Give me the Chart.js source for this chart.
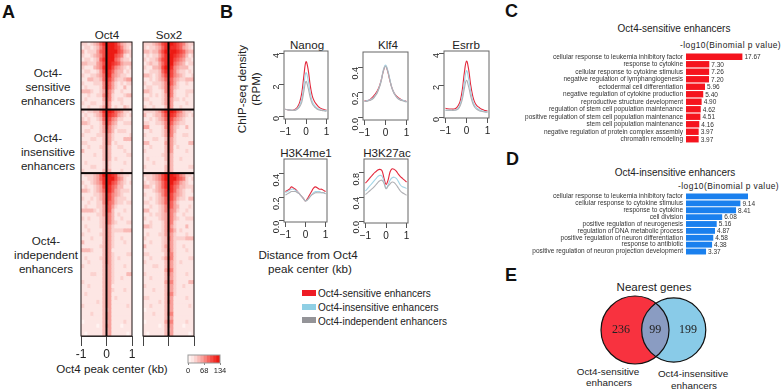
<!DOCTYPE html>
<html>
<head>
<meta charset="utf-8">
<script src="https://cdn.jsdelivr.net/npm/chart.js@4"></script>
<style>
  html, body { margin: 0; padding: 0; background: #fff; }
  body { width: 783px; height: 390px; position: relative; overflow: hidden; font-family: "Liberation Sans", Arial, sans-serif; color: #222; }
  canvas { position: absolute; }
  .t { position: absolute; transform: translate(-50%, -50%); white-space: nowrap; }
  .l { position: absolute; transform: translateY(-50%); white-space: nowrap; }
  .letter { position: absolute; font-weight: bold; font-size: 18px; color: #111; transform: translateY(-50%); }
  .rot { position: absolute; transform: translate(-50%, -50%) rotate(-90deg); white-space: nowrap; }
  .s11 { font-size: 11.6px; }
  .s9 { font-size: 9.9px; }
  .swatch { position: absolute; width: 14px; height: 6px; }
</style>
</head>
<body>
<div class="letter" style="left:2px;top:12px">A</div>
<div class="letter" style="left:220px;top:12px">B</div>
<div class="letter" style="left:505px;top:11px">C</div>
<div class="letter" style="left:506px;top:159px">D</div>
<div class="letter" style="left:505px;top:275px">E</div>

<div class="t s11" style="left:107px;top:34px">Oct4</div>
<div class="t s11" style="left:169px;top:34px">Sox2</div>
<div class="t s11" style="left:48px;top:72px">Oct4-</div>
<div class="t s11" style="left:48px;top:86px">sensitive</div>
<div class="t s11" style="left:48px;top:100px">enhancers</div>
<div class="t s11" style="left:48px;top:137px">Oct4-</div>
<div class="t s11" style="left:48px;top:151px">insensitive</div>
<div class="t s11" style="left:48px;top:165px">enhancers</div>
<div class="t s11" style="left:46px;top:240px">Oct4-</div>
<div class="t s11" style="left:46px;top:254px">independent</div>
<div class="t s11" style="left:46px;top:268px">enhancers</div>
<div class="t s11" style="left:112px;top:368px">Oct4 peak center (kb)</div>

<div class="rot s11" style="left:241px;top:89px">ChIP-seq density</div>
<div class="rot s11" style="left:255px;top:89px">(RPM)</div>
<div class="t s11" style="left:307px;top:44px">Nanog</div>
<div class="t s11" style="left:388px;top:44px">Klf4</div>
<div class="t s11" style="left:466px;top:44px">Esrrb</div>
<div class="t s11" style="left:306px;top:152px">H3K4me1</div>
<div class="t s11" style="left:387px;top:152px">H3K27ac</div>
<div class="t s11" style="left:308px;top:254px">Distance from Oct4</div>
<div class="t s11" style="left:310px;top:268px">peak center (kb)</div>

<div class="swatch" style="left:302px;top:290px;background:#ee1c25"></div>
<div class="l" style="left:318px;top:293px;font-size:10px">Oct4-sensitive enhancers</div>
<div class="swatch" style="left:302px;top:304px;background:#8fcfe4"></div>
<div class="l" style="left:318px;top:307px;font-size:10px">Oct4-insensitive enhancers</div>
<div class="swatch" style="left:302px;top:317px;background:#949498"></div>
<div class="l" style="left:318px;top:321px;font-size:10px">Oct4-independent enhancers</div>

<div class="t" style="left:674px;top:28px;font-size:10px">Oct4-sensitive enhancers</div>
<div class="l" style="left:680px;top:45px;font-size:8.4px;letter-spacing:0.45px">-log10(Binomial p value)</div>
<div class="t" style="left:675px;top:172px;font-size:10px">Oct4-insensitive enhancers</div>
<div class="l" style="left:678px;top:186px;font-size:8.4px;letter-spacing:0.45px">-log10(Binomial p value)</div>

<div class="t" style="left:654px;top:287px;font-size:11.5px">Nearest genes</div>
<div class="t s9" style="left:608px;top:371px">Oct4-sensitive</div>
<div class="t s9" style="left:609px;top:382px">enhancers</div>
<div class="t s9" style="left:693px;top:373px">Oct4-insensitive</div>
<div class="t s9" style="left:694px;top:385px">enhancers</div>

<script>
// heatmap rows, one digit per cell (0 = white .. 9 = red)
const oct4Rows = [
  "22123468999864322","12212357999875321","31222467999976432","21123457999765212",
  "12212368999653221","33222457998764333","21113458997543212","12211247986433121",
  "21122346985432211","11332236875322344","21112225864212122","12111125864211311",
  "33321124753112111","11211225752111233","12111114652122111","21122113641112111",
  "11211124641211321",
  "21223358998654221","12112347987643212","21211236875422111","33211125864311222",
  "11121124753211111","12211124653122211","21111223542111112","11122113542111333",
  "22111113541211111","11211123431122111","31111113431111211","11112113431111122",
  "11111113431211111","12111112421111211","11122112421111111","21111113431112111",
  "12223469998743221","11223468999754211","21123458997643212","12112347986533111",
  "33212346986432221","11112235875432111","21121235875322211","11211225865322122",
  "12111224764211111","33332124763111211","11111224653121111","21211123653112111",
  "11111123653211122","12111123542111111","11211113542222333","21111123542111111",
  "11121113542112111","31111113542111211","11111123542111111","33321113541111111",
  "11111113542111122","12111123542121111","11211113542111111","21111113442111211",
  "11111113442111111","11122113442111133","11111113442112111","21111113442111111",
  "11211113441111111","11111113442111211","12111113441111111","11111113441211111",
  "11111213441111111","21111113441111121","11111113341111111","11121113441111111",
  "11111113441111111","01111113341111211","11111013441110111","11111113341111111",
  "10111113341111101"
];
const sox2Rows = [
  "22234578998765322","21223468988764321","33233579899876433","12122468998765312",
  "21223578997654221","12322468996543122","21133479985433311","11222368875322121",
  "33212357875432112","11212346764322333","21122235864211211","12211235753211111",
  "33211125752111222","11212124752111211","22111124642212111","11211124641111211",
  "21121113641121111",
  "22223468998653221","31123357987543212","11212346875432111","22112235864322111",
  "44111125753211311","11211124753111111","21111124652112211","11122113542111111",
  "33111114542111133","11211113541211111","21111113541111211","11111123431111111",
  "12111113431121111","11121112431111111","21111113431111122","11111113431111111",
  "22234579998754221","12234579999765212","21223468997643211","33213468986533222",
  "11123457986432112","21112357875432111","11212346875322133","22112346764211111",
  "11211235764311121","33111235654211211","11212234653112111","21111234653211222",
  "11211124652111111","33211124642111311","11111124653121111","12111224542111211",
  "21111123642222333","11211123542111111","31111124542112111","11111123642111211",
  "22111113552111111","11211124652111122","21111113542121111","11122113542111111",
  "11111114652111111","21111113542111211","11211113442111111","11111114552111133",
  "21111113442112111","11121113442111111","11111113552111111","22111113441111211",
  "11111213541111111","11211113441111121","01111113441111111","11121113551111111",
  "11111113341111111","01111114551111211","11111013441110111","11111113341111111",
  "10111113441111101"
];
const heatRamp = ["#fff3f1","#fde6e4","#fbd2cf","#f9bab6","#f8a19c","#f7847e","#f6655f","#f44a43","#f1302a","#ec1a13"];
const heatSections = [17, 16, 41];
const heatTicks = [-1, 0, 1];
const colorbarTicks = [0, 68, 134];

// profile plots, x in kb
const distance = [-1,-0.9,-0.8,-0.7,-0.6,-0.5,-0.4,-0.3,-0.2,-0.1,0,0.1,0.2,0.3,0.4,0.5,0.6,0.7,0.8,0.9,1];
const nanogSensitive = [.42,.40,.38,.36,.38,.45,.60,.90,1.5,2.6,3.45,3.0,2.0,1.3,.95,.75,.60,.50,.45,.40,.37];
const nanogInsensitive = [.42,.40,.38,.36,.36,.40,.50,.70,1.1,2.0,2.75,2.3,1.5,.95,.70,.55,.45,.40,.37,.35,.33];
const nanogIndependent = [.42,.40,.38,.36,.35,.37,.45,.60,.90,1.6,2.2,1.8,1.2,.80,.60,.48,.40,.36,.34,.32,.30];
const klf4Sensitive = [.135,.135,.14,.15,.165,.185,.21,.245,.30,.37,.41,.37,.30,.24,.20,.175,.16,.15,.14,.135,.13];
const klf4Insensitive = [.13,.135,.14,.145,.155,.175,.20,.24,.30,.38,.415,.38,.31,.24,.20,.17,.155,.145,.14,.135,.125];
const klf4Independent = [.13,.13,.135,.14,.15,.17,.195,.235,.29,.37,.405,.37,.30,.235,.195,.17,.15,.14,.135,.13,.125];
const esrrbSensitive = [.55,.52,.50,.50,.50,.55,.70,1.0,1.7,2.8,3.5,3.0,2.0,1.3,.90,.70,.60,.50,.45,.40,.38];
const esrrbInsensitive = [.42,.42,.42,.42,.42,.45,.55,.80,1.3,2.2,2.9,2.4,1.6,1.0,.70,.55,.45,.40,.36,.34,.32];
const esrrbIndependent = [.42,.42,.42,.42,.42,.44,.50,.70,1.1,1.8,2.3,1.9,1.3,.85,.60,.47,.40,.36,.33,.31,.30];
const k4me1Sensitive = [.25,.26,.27,.29,.28,.27,.25,.23,.21,.19,.17,.19,.22,.25,.28,.29,.28,.27,.27,.26,.25];
const k4me1Insensitive = [.24,.25,.26,.27,.27,.26,.25,.23,.21,.19,.17,.18,.20,.22,.24,.25,.25,.25,.24,.24,.23];
const k4me1Independent = [.22,.23,.24,.25,.25,.25,.24,.23,.21,.19,.17,.18,.20,.22,.23,.24,.24,.24,.24,.24,.23];
const k27acSensitive = [.63,.67,.71,.75,.79,.82,.85,.86,.84,.72,.61,.68,.82,.87,.86,.83,.78,.74,.71,.68,.65];
const k27acInsensitive = [.50,.54,.58,.62,.66,.70,.74,.76,.75,.66,.54,.60,.68,.72,.73,.71,.66,.60,.57,.56,.54];
const k27acIndependent = [.44,.47,.50,.53,.56,.60,.64,.67,.68,.63,.54,.58,.62,.65,.64,.60,.55,.50,.47,.45,.43];

// GO term bars
const sensitiveTerms = ["cellular response to leukemia inhibitory factor","response to cytokine","cellular response to cytokine stimulus","negative regulation of lymphangiogenesis","ectodermal cell differentiation","negative regulation of cytokine production","reproductive structure development","regulation of stem cell population maintenance","positive regulation of stem cell population maintenance","stem cell population maintenance","negative regulation of protein complex assembly","chromatin remodeling"];
const sensitiveValues = [17.67,7.30,7.26,7.20,5.96,5.40,4.90,4.62,4.51,4.16,3.97,3.97];
const insensitiveTerms = ["cellular response to leukemia inhibitory factor","cellular response to cytokine stimulus","response to cytokine","cell division","positive regulation of neurogenesis","regulation of DNA metabolic process","positive regulation of neuron differentiation","response to antibiotic","positive regulation of neuron projection development"];
const insensitiveValues = [10.42,9.14,8.41,6.08,5.16,4.87,4.58,4.38,3.37];
const insensitiveShown = ["","9.14","8.41","6.08","5.16","4.87","4.58","4.38","3.37"];

// venn counts
const vennOnlySensitive = 236;
const vennShared = 99;
const vennOnlyInsensitive = 199;

// first dataset draws on top in Chart.js
const seriesColors = ["#b0b0b4", "#a3d5e6", "#e3283c"];

function addCanvas(left, top, w, h) {
  const c = document.createElement("canvas");
  c.width = w;
  c.height = h;
  c.style.left = left + "px";
  c.style.top = top + "px";
  c.style.width = w + "px";
  c.style.height = h + "px";
  document.body.appendChild(c);
  return c;
}

// keep the plot area where the layout puts it
function noScalePadding(s) {
  s.paddingTop = 0;
  s.paddingBottom = 0;
  s.paddingLeft = 0;
  s.paddingRight = 0;
}

const boxPlugin = {
  id: "box",
  afterDatasetsDraw(chart, args, opts) {
    const a = chart.chartArea;
    const ctx = chart.ctx;
    ctx.save();
    ctx.strokeStyle = opts.color;
    ctx.lineWidth = opts.width;
    ctx.strokeRect(a.left, a.top, a.right - a.left, a.bottom - a.top);
    ctx.restore();
  },
};

// black centre line and section dividers on the heatmaps
const heatLines = {
  id: "heatLines",
  afterDatasetsDraw(chart, args, opts) {
    const a = chart.chartArea;
    const ctx = chart.ctx;
    const cx = chart.scales.x.getPixelForValue(0);
    ctx.save();
    ctx.fillStyle = "#0c0606";
    ctx.fillRect(cx - 1, a.top, 2, a.bottom - a.top);
    let row = 0;
    opts.sections.slice(0, -1).forEach((n) => {
      row += n;
      const y = chart.scales.y.getPixelForValue(row - 0.5);
      ctx.fillRect(a.left, y - 1, a.right - a.left, 2);
    });
    ctx.restore();
  },
};

function heatmap(rows, left, showLabels) {
  const nCols = rows[0].length;
  const datasets = [];
  for (let c = 0; c < nCols; c++) {
    datasets.push({
      data: rows.map((r, i) => ({ x: [-1 + (2 * c) / nCols, -1 + (2 * (c + 1)) / nCols], y: i })),
      backgroundColor: rows.map((r) => heatRamp[+r[c]]),
      borderWidth: 0,
      grouped: false,
      barPercentage: 1,
      categoryPercentage: 1,
    });
  }
  const canvas = addCanvas(left - 12, 41, 51 + 24, 326);
  canvas.style.filter = "blur(0.5px)";
  new Chart(canvas, {
    type: "bar",
    data: { labels: rows.map((r, i) => i), datasets: datasets },
    options: {
      indexAxis: "y",
      responsive: false,
      animation: false,
      layout: { autoPadding: false, padding: { left: 12, right: 12, top: 1, bottom: 0 } },
      scales: {
        x: {
          type: "linear",
          min: -1,
          max: 1,
          afterBuildTicks: (s) => { s.ticks = heatTicks.map((v) => ({ value: v })); },
          afterFit: (s) => { s.height = 31; noScalePadding(s); },
          grid: { drawOnChartArea: false, tickLength: 10, color: "#444" },
          border: { color: "#444" },
          ticks: {
            padding: 1,
            maxRotation: 0,
            color: "#222",
            font: { size: 12, family: "Liberation Sans" },
            callback: (v) => (showLabels ? v : ""),
          },
        },
        y: { display: false },
      },
      plugins: {
        legend: { display: false },
        tooltip: { enabled: false },
        box: { color: "#1a1010", width: 1 },
        heatLines: { sections: heatSections },
      },
    },
    plugins: [boxPlugin, heatLines],
  });
}

heatmap(oct4Rows, 81, true);
heatmap(sox2Rows, 143, false);

// colour key under the heatmaps
const keyStep = 134 / heatRamp.length;
new Chart(addCanvas(178, 354, 52, 24), {
  type: "bar",
  data: {
    labels: ["key"],
    datasets: [{
      data: heatRamp.map((c, i) => ({ x: [i * keyStep, (i + 1) * keyStep], y: "key" })),
      backgroundColor: heatRamp,
      borderWidth: 0,
      grouped: false,
      barPercentage: 1,
      categoryPercentage: 1,
    }],
  },
  options: {
    indexAxis: "y",
    responsive: false,
    animation: false,
    layout: { autoPadding: false, padding: { left: 10, right: 10, top: 1, bottom: 0 } },
    scales: {
      x: {
        type: "linear",
        min: 0,
        max: 134,
        afterBuildTicks: (s) => { s.ticks = colorbarTicks.map((v) => ({ value: v })); },
        afterFit: (s) => { s.height = 15; noScalePadding(s); },
        grid: { drawOnChartArea: false, tickLength: 2, color: "#888" },
        border: { display: false },
        ticks: { padding: 1, maxRotation: 0, color: "#222", font: { size: 7.5, family: "Liberation Sans" } },
      },
      y: { display: false },
    },
    plugins: { legend: { display: false }, tooltip: { enabled: false }, box: { color: "#999", width: 1 } },
  },
  plugins: [boxPlugin],
});

// profile plot: box is the frame in page pixels
function profile(box, yMin, yMax, yTicks, sensitive, insensitive, independent, decimals) {
  const series = [independent, insensitive, sensitive];
  new Chart(addCanvas(box[0] - 26, box[1] - 1, box[2] + 26 + 8, box[3] + 1 + 24), {
    type: "line",
    data: {
      labels: distance,
      datasets: series.map((s, i) => ({
        data: s.map((v, k) => ({ x: distance[k], y: v })),
        borderColor: seriesColors[i],
        borderWidth: 1.1,
        pointRadius: 0,
        tension: 0.4,
      })),
    },
    options: {
      responsive: false,
      animation: false,
      layout: { autoPadding: false, padding: { left: 0, right: 8, top: 1, bottom: 0 } },
      scales: {
        x: {
          type: "linear",
          min: -1.07,
          max: 1.07,
          afterBuildTicks: (s) => { s.ticks = [-1, 0, 1].map((v) => ({ value: v })); },
          afterFit: (s) => { s.height = 24; noScalePadding(s); },
          grid: { drawOnChartArea: false, tickLength: 5, color: "#555" },
          border: { display: false },
          ticks: { padding: 2, maxRotation: 0, color: "#222", font: { size: 10, family: "Liberation Sans" },
            callback: (v) => (v < 0 ? "\u2212" + Math.abs(v) : v) },
        },
        y: {
          min: yMin,
          max: yMax,
          afterBuildTicks: (s) => { s.ticks = yTicks.map((v) => ({ value: v })); },
          afterFit: (s) => { s.width = 26; noScalePadding(s); },
          grid: { drawOnChartArea: false, tickLength: 5, color: "#555" },
          border: { display: false },
          ticks: { padding: 2, minRotation: 90, maxRotation: 90, color: "#222", font: { size: 9, family: "Liberation Sans" },
            callback: (v) => v.toFixed(decimals) },
        },
      },
      plugins: { legend: { display: false }, tooltip: { enabled: false }, box: { color: "#666", width: 1 } },
    },
    plugins: [boxPlugin],
  });
}

profile([284, 51, 44, 68], -0.19, 4.13, [0, 2, 4], nanogSensitive, nanogInsensitive, nanogIndependent, 0);
profile([363, 52, 45, 68], -0.016, 0.518, [0, 0.2, 0.4], klf4Sensitive, klf4Insensitive, klf4Independent, 1);
profile([444, 51, 45, 67], -0.06, 4.13, [0, 2, 4], esrrbSensitive, esrrbInsensitive, esrrbIndependent, 0);
profile([284, 159, 43, 63], -0.01, 0.528, [0, 0.2, 0.4], k4me1Sensitive, k4me1Insensitive, k4me1Independent, 1);
profile([364, 159, 44, 64], -0.033, 1.033, [0, 0.4, 0.8], k27acSensitive, k27acInsensitive, k27acIndependent, 1);

const barValueLabels = {
  id: "barValueLabels",
  afterDatasetsDraw(chart, args, opts) {
    const ctx = chart.ctx;
    ctx.save();
    ctx.font = "6.5px 'Liberation Sans'";
    ctx.fillStyle = "#333";
    ctx.textBaseline = "middle";
    chart.getDatasetMeta(0).data.forEach((bar, i) => {
      ctx.fillText(opts.texts[i], bar.x + 2, bar.y + 0.5);
    });
    ctx.restore();
  },
};

function goBars(left, top, h, xMax, terms, values, texts, color) {
  new Chart(addCanvas(left, top, 783 - left, h), {
    type: "bar",
    data: {
      labels: terms,
      datasets: [{ data: values, backgroundColor: color, borderWidth: 0, barPercentage: 0.85, categoryPercentage: 1 }],
    },
    options: {
      indexAxis: "y",
      responsive: false,
      animation: false,
      layout: { autoPadding: false, padding: 0 },
      scales: {
        x: { display: false, min: 0, max: xMax },
        y: {
          afterFit: (s) => { s.width = 186; noScalePadding(s); },
          grid: { display: false, drawTicks: false },
          border: { display: false },
          ticks: { autoSkip: false, padding: 3, color: "#333", font: { size: 6.5, family: "Liberation Sans" } },
        },
      },
      plugins: { legend: { display: false }, tooltip: { enabled: false }, barValueLabels: { texts: texts } },
    },
    plugins: [barValueLabels],
  });
}

goBars(500, 52.6, 90, 30.4, sensitiveTerms, sensitiveValues, sensitiveValues.map((v) => v.toFixed(2)), "#f5141e");
goBars(500, 193, 62, 16.3, insensitiveTerms, insensitiveValues, insensitiveShown, "#1a80ee");

// venn: circle area follows the set size
const vennPlugin = {
  id: "vennOverlap",
  afterDatasetsDraw(chart) {
    const ctx = chart.ctx;
    const a = chart.getDatasetMeta(0).data[0];
    const b = chart.getDatasetMeta(0).data[1];
    const ra = a.options.radius;
    const rb = b.options.radius;
    ctx.save();
    ctx.save();
    ctx.beginPath();
    ctx.arc(a.x, a.y, ra, 0, Math.PI * 2);
    ctx.clip();
    ctx.beginPath();
    ctx.arc(b.x, b.y, rb, 0, Math.PI * 2);
    ctx.fillStyle = "#8a9cc2";
    ctx.fill();
    ctx.restore();
    ctx.strokeStyle = "#111";
    ctx.lineWidth = 1.2;
    [[a, ra], [b, rb]].forEach((p) => {
      ctx.beginPath();
      ctx.arc(p[0].x, p[0].y, p[1], 0, Math.PI * 2);
      ctx.stroke();
    });
    ctx.font = "12px 'Liberation Serif'";
    ctx.textAlign = "center";
    ctx.textBaseline = "middle";
    ctx.fillStyle = "#222";
    const xs = chart.scales.x;
    ctx.fillText(vennOnlySensitive, xs.getPixelForValue(-0.36), a.y);
    ctx.fillText(vennShared, xs.getPixelForValue(0.52), a.y);
    ctx.fillText(vennOnlyInsensitive, xs.getPixelForValue(1.37), a.y);
    ctx.restore();
  },
};

const vennRadiusScale = 1.858;
new Chart(addCanvas(595, 290, 120, 80), {
  type: "bubble",
  data: {
    datasets: [{
      data: [
        { x: 0, y: 0, r: Math.sqrt(vennOnlySensitive + vennShared) * vennRadiusScale },
        { x: 1, y: 0, r: Math.sqrt(vennOnlyInsensitive + vennShared) * vennRadiusScale },
      ],
      backgroundColor: ["#f8323f", "#89cbe8"],
      borderWidth: 0,
      hoverRadius: 0,
      clip: false,
    }],
  },
  options: {
    responsive: false,
    animation: false,
    layout: { autoPadding: false, padding: 0 },
    scales: {
      x: { display: false, min: -1.034, max: 2.067 },
      y: { display: false, min: -1, max: 1 },
    },
    plugins: { legend: { display: false }, tooltip: { enabled: false } },
  },
  plugins: [vennPlugin],
});
</script>
</body>
</html>
